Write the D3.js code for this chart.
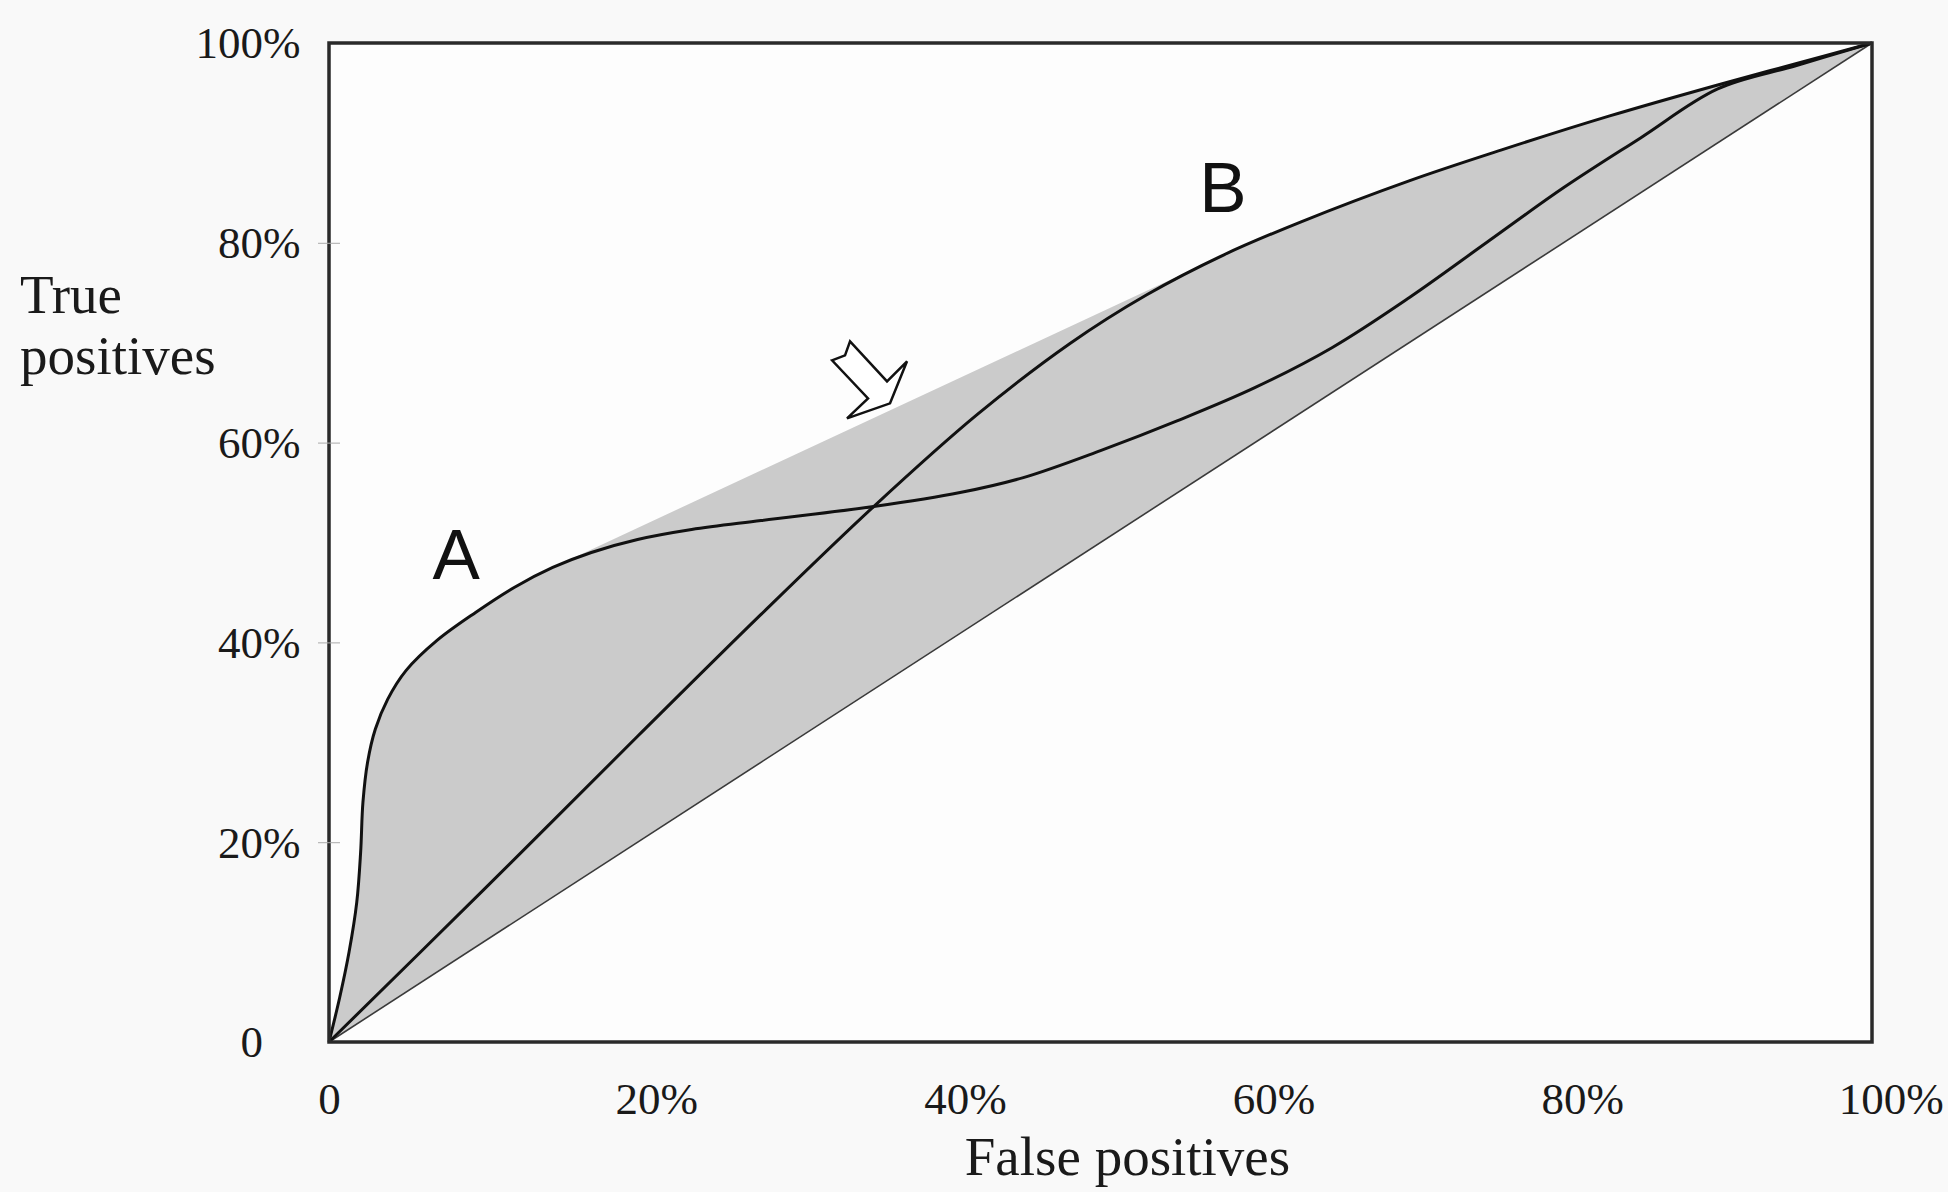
<!DOCTYPE html>
<html>
<head>
<meta charset="utf-8">
<script src="https://cdn.jsdelivr.net/npm/d3@7"></script>
<style>
  html, body { margin: 0; padding: 0; background: #f9f9f9; }
  svg { display: block; }
  .serif { font-family: "Liberation Serif", "Times New Roman", serif; fill: #1a1a1a; }
  .tick-num { font-size: 45px; }
  .axis-title { font-size: 55px; }
  .curve-label { font-family: "Liberation Sans", Arial, sans-serif; font-size: 71px; fill: #111; }
</style>
</head>
<body>
<div id="chart"></div>
<script>
// ROC space: false positive rate (x) vs true positive rate (y)
const fpTicks = [0, 0.2, 0.4, 0.6, 0.8, 1];
const tpTicks = [0, 0.2, 0.4, 0.6, 0.8, 1];

// curve A: steep start, flat middle
const curveA = [
    [0, 0], [0.007, 0.045], [0.013, 0.090], [0.018, 0.140], [0.0205, 0.190],
    [0.022, 0.240], [0.025, 0.280], [0.030, 0.313], [0.038, 0.343], [0.050, 0.372],
    [0.070, 0.402], [0.095, 0.430], [0.120, 0.455], [0.145, 0.475], [0.170, 0.490],
    [0.200, 0.503], [0.235, 0.513], [0.280, 0.522], [0.353, 0.536], [0.409, 0.550],
    [0.450, 0.565], [0.500, 0.592], [0.550, 0.622], [0.600, 0.655], [0.650, 0.695],
    [0.700, 0.745], [0.750, 0.800], [0.800, 0.855], [0.850, 0.905], [0.900, 0.954],
    [0.950, 0.977], [1, 1]
];

// curve B: near-straight start, bows out later
const curveB = [
    [0, 0], [0.100, 0.152], [0.200, 0.306], [0.280, 0.428], [0.353, 0.536],
    [0.420, 0.628], [0.480, 0.699], [0.530, 0.748], [0.580, 0.788], [0.630, 0.821],
    [0.700, 0.862], [0.760, 0.893], [0.830, 0.927], [0.900, 0.958], [0.950, 0.979],
    [1, 1]
];

const chanceLine = [[0, 0], [1, 1]];

const curveLabels = [
    {name: "A", fp: 0.067, tp: 0.4635},
    {name: "B", fp: 0.564, tp: 0.831}
];

// arrow pointing at the hull edge (tip position in data units)
const arrowTip = {fp: 0.3636, tp: 0.6393};

const width = 1948, height = 1192;
const margin = {top: 43, right: 76, bottom: 150, left: 329};
const innerWidth = width - margin.left - margin.right;
const innerHeight = height - margin.top - margin.bottom;

const svg = d3.select("#chart").append("svg")
    .attr("width", width)
    .attr("height", height);

svg.append("rect")
    .attr("width", width).attr("height", height)
    .attr("fill", "#f9f9f9");

const g = svg.append("g")
    .attr("transform", `translate(${margin.left},${margin.top})`);

const x = d3.scaleLinear().domain([0, 1]).range([0, innerWidth]);
const y = d3.scaleLinear().domain([0, 1]).range([innerHeight, 0]);

// plot background
g.append("rect")
    .attr("width", innerWidth).attr("height", innerHeight)
    .attr("fill", "#fdfdfd");

const line = d3.line()
    .x(d => x(d[0]))
    .y(d => y(d[1]))
    .curve(d3.curveCatmullRom.alpha(0.5));

const shadeLayer = g.append("g");
const shadeColor = "#cbcbcb";

g.append("path")
    .datum(chanceLine)
    .attr("d", d3.line().x(d => x(d[0])).y(d => y(d[1])))
    .attr("fill", "none")
    .attr("stroke", "#3a3a3a")
    .attr("stroke-width", 1.6);

const pathA = g.append("path")
    .datum(curveA)
    .attr("d", line)
    .attr("fill", "none")
    .attr("stroke", "#111")
    .attr("stroke-width", 3);

const pathB = g.append("path")
    .datum(curveB)
    .attr("d", line)
    .attr("fill", "none")
    .attr("stroke", "#111")
    .attr("stroke-width", 3);

// shaded region: area under A plus convex hull of both curves
function samplePath(p, minX) {
    const node = p.node();
    const len = node.getTotalLength();
    const pts = [];
    for (let s = 0; s <= len; s += 2) {
        const pt = node.getPointAtLength(s);
        if (pt.x >= minX) pts.push([pt.x, pt.y]);
    }
    return pts;
}
const ptsA = samplePath(pathA, -1);
const hullPts = [[x(0), y(0)], [x(1), y(1)]]
    .concat(samplePath(pathA, x(0.1)))
    .concat(samplePath(pathB, -1));
const hull = d3.polygonHull(hullPts);

shadeLayer.append("path")
    .attr("d", "M" + hull.join("L") + "Z")
    .attr("fill", shadeColor);
shadeLayer.append("path")
    .attr("d", "M" + ptsA.join("L") + "L" + [x(1), y(1)] + "L" + [x(0), y(0)] + "Z")
    .attr("fill", shadeColor);

// frame
g.append("rect")
    .attr("width", innerWidth).attr("height", innerHeight)
    .attr("fill", "none")
    .attr("stroke", "#2a2a2a")
    .attr("stroke-width", 3.5);

const numFormat = d => d === 0 ? "0" : String(Math.round(d * 100));

// x axis: the number is centred on the tick, "%" hangs to the right
const xAxis = g.append("g")
    .attr("transform", `translate(0,${innerHeight})`)
    .call(d3.axisBottom(x).tickValues(fpTicks).tickSize(0).tickFormat(numFormat));
xAxis.select(".domain").remove();
xAxis.selectAll(".tick text").each(function(d) {
    const t = d3.select(this)
        .attr("class", "serif tick-num")
        .attr("fill", null)
        .attr("y", 72).attr("dy", null);
    const w = this.getComputedTextLength();
    t.attr("text-anchor", "start").attr("x", -w / 2);
    if (d !== 0) t.append("tspan").text("%");
});

// y axis: numbers right-aligned, "%" hangs to the right
const yAxis = g.append("g")
    .call(d3.axisLeft(y).tickValues(tpTicks).tickSize(0).tickFormat(numFormat));
yAxis.select(".domain").remove();
yAxis.selectAll(".tick").each(function(d) {
    if (d === 0 || d === 1) return;
    d3.select(this).append("line")
        .attr("x1", -11).attr("x2", 11)
        .attr("stroke", "#aaa").attr("stroke-width", 1);
});
yAxis.selectAll(".tick text").each(function(d) {
    const t = d3.select(this)
        .attr("class", "serif tick-num")
        .attr("fill", null)
        .attr("dy", "0.33em");
    const w = this.getComputedTextLength();
    t.attr("text-anchor", "start").attr("x", -66 - w);
    if (d !== 0) t.append("tspan").text("%");
});

// axis titles
svg.append("text")
    .attr("class", "serif axis-title")
    .attr("x", margin.left + innerWidth / 2 + 27)
    .attr("y", margin.top + innerHeight + 133)
    .attr("text-anchor", "middle")
    .text("False positives");

const yTitle = svg.append("text")
    .attr("class", "serif axis-title")
    .attr("x", 20).attr("y", 313);
yTitle.append("tspan").attr("x", 20).text("True");
yTitle.append("tspan").attr("x", 20).attr("dy", 61).text("positives");

// curve labels
g.selectAll(".curve-label")
    .data(curveLabels)
    .enter()
    .append("text")
    .attr("class", "curve-label")
    .attr("x", d => x(d.fp))
    .attr("y", d => y(d.tp))
    .text(d => d.name);

// hollow arrow
const arrowShape = [
    [-58, -43], [-45, -48], [-40, -62], [-3, -22], [17, -42],
    [0, 0], [-43, 15], [-22, -5]
];
g.append("path")
    .attr("transform", `translate(${x(arrowTip.fp)},${y(arrowTip.tp)})`)
    .attr("d", "M" + arrowShape.join("L") + "Z")
    .attr("fill", "#fff")
    .attr("stroke", "#111")
    .attr("stroke-width", 2.5)
    .attr("stroke-linejoin", "miter");
</script>
</body>
</html>
